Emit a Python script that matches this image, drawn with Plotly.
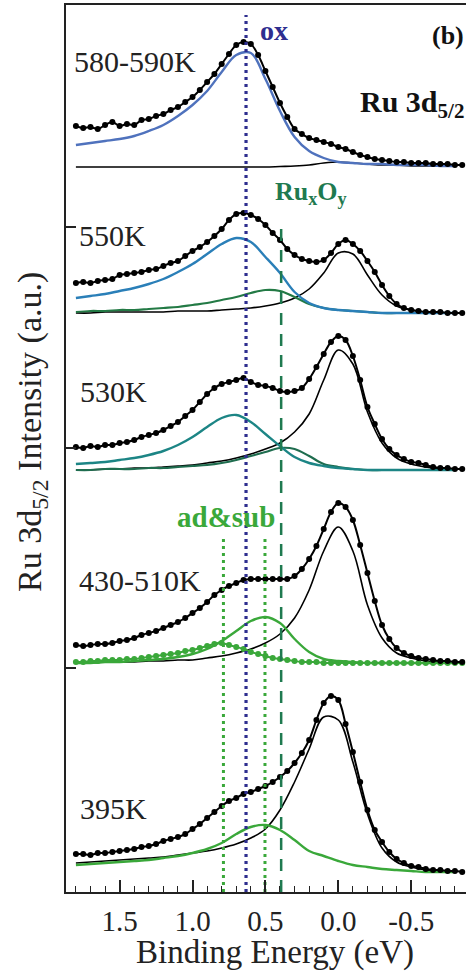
import plotly.graph_objects as go

# ---------------------------------------------
#  Data (intensity in a.u.,
#  relative to each spectrum's own baseline)
# ---------------------------------------------

energy_fine = [1.80, 1.75, 1.70, 1.65, 1.60, 1.55, 1.50, 1.45, 1.40, 1.35,
               1.30, 1.25, 1.20, 1.15, 1.10, 1.05, 1.00, 0.95, 0.90, 0.85,
               0.80, 0.75, 0.70, 0.65, 0.60, 0.55, 0.50, 0.45, 0.40, 0.35,
               0.30, 0.25, 0.20, 0.15, 0.10, 0.05, 0.00, -0.05, -0.10, -0.15,
               -0.20, -0.25, -0.30, -0.35, -0.40, -0.45, -0.50, -0.55, -0.60, -0.65,
               -0.70, -0.75, -0.80, -0.85]

energy_coarse = [1.8, 1.7, 1.6, 1.5, 1.4, 1.3, 1.2, 1.1, 1.0, 0.9,
                 0.8, 0.7, 0.6, 0.5, 0.4, 0.3, 0.2, 0.1, 0.0, -0.1,
                 -0.2, -0.3, -0.4, -0.5, -0.6, -0.7, -0.8]

panel_labels = ["580-590K", "550K", "530K", "430-510K", "395K"]
panel_offsets = [7.25, 5.79, 4.22, 2.29, 0.20]

# measured points
data_580 = [0.41, 0.39, 0.40, 0.38, 0.42, 0.45, 0.41, 0.43, 0.42, 0.47,
            0.48, 0.51, 0.53, 0.57, 0.60, 0.65, 0.70, 0.77, 0.85, 0.93,
            1.03, 1.13, 1.22, 1.25, 1.23, 1.12, 0.96, 0.80, 0.64, 0.50,
            0.38, 0.33, 0.29, 0.27, 0.25, 0.23, 0.20, 0.18, 0.15, 0.12,
            0.10, 0.08, 0.07, 0.06, 0.05, 0.05, 0.04, 0.04, 0.04, 0.03,
            0.03, 0.03, 0.02, 0.02]
data_550 = [0.30, 0.31, 0.30, 0.32, 0.33, 0.34, 0.38, 0.39, 0.40, 0.41,
            0.43, 0.44, 0.47, 0.50, 0.52, 0.57, 0.62, 0.66, 0.71, 0.77,
            0.84, 0.93, 0.99, 1.00, 0.98, 0.94, 0.88, 0.80, 0.73, 0.64,
            0.58, 0.54, 0.52, 0.51, 0.53, 0.60, 0.69, 0.73, 0.69, 0.62,
            0.52, 0.41, 0.28, 0.17, 0.09, 0.05, 0.03, 0.02, 0.01, 0.01,
            0.01, 0.00, 0.00, 0.00]
data_530 = [0.23, 0.22, 0.24, 0.23, 0.25, 0.25, 0.27, 0.28, 0.30, 0.33,
            0.35, 0.37, 0.40, 0.44, 0.48, 0.54, 0.60, 0.68, 0.76, 0.82,
            0.86, 0.88, 0.90, 0.92, 0.88, 0.85, 0.84, 0.82, 0.79, 0.78,
            0.79, 0.82, 0.91, 1.03, 1.16, 1.28, 1.34, 1.30, 1.14, 0.90,
            0.63, 0.46, 0.31, 0.21, 0.15, 0.11, 0.08, 0.07, 0.05, 0.03,
            0.02, 0.02, 0.01, 0.01]
data_430 = [0.18, 0.17, 0.18, 0.19, 0.19, 0.20, 0.22, 0.23, 0.25, 0.28,
            0.30, 0.32, 0.35, 0.38, 0.41, 0.45, 0.50, 0.55, 0.61, 0.68,
            0.73, 0.77, 0.80, 0.83, 0.84, 0.84, 0.84, 0.84, 0.84, 0.84,
            0.87, 0.94, 1.04, 1.17, 1.34, 1.51, 1.60, 1.56, 1.43, 1.18,
            0.90, 0.62, 0.38, 0.24, 0.15, 0.10, 0.07, 0.05, 0.04, 0.03,
            0.02, 0.02, 0.01, 0.01]
data_395 = [0.18, 0.18, 0.17, 0.19, 0.19, 0.20, 0.21, 0.22, 0.23, 0.25,
            0.26, 0.28, 0.31, 0.33, 0.35, 0.38, 0.43, 0.48, 0.54, 0.60,
            0.66, 0.71, 0.74, 0.78, 0.80, 0.83, 0.86, 0.90, 0.95, 1.01,
            1.09, 1.19, 1.32, 1.52, 1.69, 1.76, 1.72, 1.48, 1.20, 0.90,
            0.62, 0.42, 0.30, 0.20, 0.13, 0.09, 0.06, 0.05, 0.03, 0.02,
            0.02, 0.01, 0.01, 0.00]

# fitted components
ox_580 = [0.22, 0.24, 0.26, 0.28, 0.31, 0.36, 0.42, 0.51, 0.62, 0.76,
          0.95, 1.12, 1.14, 0.88, 0.56, 0.30, 0.16, 0.09, 0.05, 0.04,
          0.03, 0.03, 0.02, 0.02, 0.02, 0.01, 0.01]
met_580 = [0.00, 0.00, 0.00, 0.00, 0.00, 0.00, 0.00, 0.00, 0.00, 0.00,
           0.00, 0.00, 0.00, 0.00, 0.005, 0.01, 0.02, 0.04, 0.05, 0.04,
           0.03, 0.02, 0.02, 0.01, 0.01, 0.01, 0.01]

ox_550 = [0.15, 0.17, 0.19, 0.22, 0.25, 0.29, 0.34, 0.41, 0.49, 0.59,
          0.69, 0.75, 0.71, 0.56, 0.40, 0.21, 0.10, 0.05, 0.03, 0.02,
          0.01, 0.00, 0.00, 0.00, 0.00, 0.00, 0.00]
rux_550 = [0.01, 0.02, 0.02, 0.03, 0.03, 0.04, 0.05, 0.06, 0.08, 0.10,
           0.13, 0.16, 0.20, 0.23, 0.22, 0.16, 0.09, 0.05, 0.03, 0.02,
           0.01, 0.00, 0.00, 0.00, 0.00, 0.00, 0.00]
met_550 = [0.00, 0.00, 0.01, 0.01, 0.01, 0.01, 0.01, 0.02, 0.02, 0.02,
           0.03, 0.04, 0.05, 0.07, 0.10, 0.15, 0.24, 0.40, 0.60, 0.59,
           0.38, 0.18, 0.07, 0.03, 0.01, 0.00, 0.00]

ox_530 = [0.06, 0.07, 0.08, 0.10, 0.12, 0.15, 0.19, 0.25, 0.33, 0.43,
          0.52, 0.55, 0.48, 0.36, 0.24, 0.13, 0.07, 0.04, 0.02, 0.01,
          0.00, 0.00, 0.00, 0.00, 0.00, 0.00, 0.00]
rux_530 = [0.00, 0.00, 0.01, 0.01, 0.01, 0.02, 0.02, 0.03, 0.04, 0.05,
           0.07, 0.10, 0.14, 0.18, 0.22, 0.21, 0.14, 0.06, 0.03, 0.01,
           0.00, 0.00, 0.00, 0.00, 0.00, 0.00, 0.00]
met_530 = [0.00, 0.00, 0.01, 0.01, 0.02, 0.02, 0.03, 0.04, 0.05, 0.07,
           0.09, 0.12, 0.16, 0.21, 0.27, 0.38, 0.56, 0.90, 1.20, 1.06,
           0.58, 0.27, 0.12, 0.06, 0.03, 0.01, 0.00]

sub_430 = [0.00, 0.00, 0.01, 0.01, 0.02, 0.03, 0.04, 0.06, 0.09, 0.14,
           0.22, 0.32, 0.42, 0.46, 0.40, 0.24, 0.11, 0.04, 0.02, 0.01,
           0.00, 0.00, 0.00, 0.00, 0.00, 0.00, 0.00]
met_430 = [0.00, 0.00, 0.01, 0.01, 0.01, 0.02, 0.02, 0.03, 0.03, 0.05,
           0.07, 0.10, 0.14, 0.20, 0.29, 0.45, 0.73, 1.12, 1.36, 1.12,
           0.58, 0.25, 0.10, 0.05, 0.02, 0.01, 0.00]
ad_430 = [0.01, 0.01, 0.02, 0.02, 0.03, 0.03, 0.03, 0.04, 0.04, 0.05,
          0.06, 0.07, 0.08, 0.09, 0.10, 0.12, 0.13, 0.15, 0.17, 0.19,
          0.20, 0.18, 0.16, 0.14, 0.11, 0.09, 0.07, 0.05, 0.04, 0.03,
          0.02, 0.01, 0.01, 0.01, 0.00, 0.00, 0.00, 0.00, 0.00, 0.00,
          0.00, 0.00, 0.00, 0.00, 0.00, 0.00, 0.00, 0.00, 0.00, 0.00,
          0.00, 0.00, 0.00, 0.00]

sub_395 = [0.07, 0.08, 0.09, 0.10, 0.11, 0.12, 0.14, 0.16, 0.19, 0.23,
           0.29, 0.38, 0.45, 0.47, 0.42, 0.32, 0.21, 0.16, 0.11, 0.07,
           0.05, 0.03, 0.02, 0.01, 0.00, 0.00, 0.00]
met_395 = [0.09, 0.10, 0.11, 0.12, 0.13, 0.14, 0.15, 0.17, 0.19, 0.21,
           0.24, 0.28, 0.34, 0.43, 0.62, 0.90, 1.23, 1.55, 1.52, 1.10,
           0.58, 0.24, 0.10, 0.05, 0.02, 0.01, 0.00]

# reference energies of the vertical guide lines
ox_energy = 0.633
ruxoy_energy = 0.392
adsub_energies = [0.788, 0.503]

tick_vals = [1.5, 1.0, 0.5, 0.0, -0.5]
tick_text = ["1.5", "1.0", "0.5", "0.0", "-0.5"]
minor_vals = [1.8, 1.7, 1.6, 1.4, 1.3, 1.2, 1.1, 0.9, 0.8, 0.7, 0.6,
              0.4, 0.3, 0.2, 0.1, -0.1, -0.2, -0.3, -0.4, -0.6, -0.7, -0.8]
y_ticks = [2.24, 4.44, 6.65]

# ----------------------
#  Colours
# ----------------------
NAVY = "#2e2e8f"
RUX_GREEN = "#1f7a50"
AD_GREEN = "#3aa83a"
SERIF = "Liberation Serif"

fig = go.Figure()


def shift(values, off):
    return [v + off for v in values]


def add_line(x, y, off, color, width=2.2):
    fig.add_trace(go.Scatter(
        x = x, y = shift(y, off), mode = "lines",
        line = dict(color = color, width = width, shape = "spline"),
        hoverinfo = "skip"
    ))


def add_data(y, off):
    fig.add_trace(go.Scatter(
        x = energy_fine, y = shift(y, off), mode = "lines+markers",
        line = dict(color = "black", width = 2, shape = "spline"),
        marker = dict(color = "black", size = 6),
        hoverinfo = "skip"
    ))


# 580-590K
o = panel_offsets[0]
add_line(energy_coarse, met_580, o, "black", 1.6)
add_line(energy_coarse, ox_580, o, "#4f72bd", 2.4)
add_data(data_580, o)

# 550K
o = panel_offsets[1]
add_line(energy_coarse, met_550, o, "black", 1.6)
add_line(energy_coarse, rux_550, o, "#237a45", 2.2)
add_line(energy_coarse, ox_550, o, "#2a7fb8", 2.4)
add_data(data_550, o)

# 530K
o = panel_offsets[2]
add_line(energy_coarse, met_530, o, "black", 1.6)
add_line(energy_coarse, rux_530, o, "#1f6d4f", 2.2)
add_line(energy_coarse, ox_530, o, "#1c8585", 2.4)
add_data(data_530, o)

# 430-510K
o = panel_offsets[3]
add_line(energy_coarse, met_430, o, "black", 1.6)
add_line(energy_coarse, sub_430, o, AD_GREEN, 2.4)
fig.add_trace(go.Scatter(
    x = energy_fine, y = shift(ad_430, o), mode = "lines+markers",
    line = dict(color = AD_GREEN, width = 2, shape = "spline"),
    marker = dict(color = AD_GREEN, size = 6),
    hoverinfo = "skip"
))
add_data(data_430, o)

# 395K
o = panel_offsets[4]
add_line(energy_coarse, met_395, o, "black", 1.6)
add_line(energy_coarse, sub_395, o, AD_GREEN, 2.4)
add_data(data_395, o)

# ----------------------
#  Vertical guide lines
# ----------------------
for e in adsub_energies:
    fig.add_trace(go.Scatter(
        x = [e, e], y = [0, 3.55], mode = "lines",
        line = dict(color = AD_GREEN, width = 3, dash = "3px,4px"),
        hoverinfo = "skip"
    ))
fig.add_trace(go.Scatter(
    x = [ruxoy_energy, ruxoy_energy], y = [0, 6.72], mode = "lines",
    line = dict(color = RUX_GREEN, width = 2.5, dash = "12px,9px"),
    hoverinfo = "skip"
))
fig.add_trace(go.Scatter(
    x = [ox_energy, ox_energy], y = [0, 8.77], mode = "lines",
    line = dict(color = NAVY, width = 3.2, dash = "3px,4px"),
    hoverinfo = "skip"
))

# ----------------------
#  Text labels
# ----------------------
label_pos = [(1.826, 8.31), (1.792, 6.57), (1.785, 5.01), (1.792, 3.12), (1.785, 0.84)]
for txt, (lx, ly) in zip(panel_labels, label_pos):
    fig.add_annotation(x = lx, y = ly, text = txt, showarrow = False,
                       xanchor = "left", yanchor = "middle",
                       font = dict(family = SERIF, size = 30, color = "#222"))

fig.add_annotation(x = 0.551, y = 8.62, text = "<b>ox</b>", showarrow = False,
                   xanchor = "left", yanchor = "middle",
                   font = dict(family = SERIF, size = 28, color = NAVY))
fig.add_annotation(x = 0.448, y = 6.99, text = "<b>Ru<sub>x</sub>O<sub>y</sub></b>",
                   showarrow = False, xanchor = "left", yanchor = "middle",
                   font = dict(family = SERIF, size = 26, color = RUX_GREEN))
fig.add_annotation(x = 1.12, y = 3.75, text = "<b>ad&sub</b>", showarrow = False,
                   xanchor = "left", yanchor = "middle",
                   font = dict(family = SERIF, size = 29, color = AD_GREEN))
fig.add_annotation(x = -0.63, y = 8.57, text = "<b>(b)</b>", showarrow = False,
                   xanchor = "left", yanchor = "middle",
                   font = dict(family = SERIF, size = 26, color = "#111"))
fig.add_annotation(x = -0.134, y = 7.88, text = "<b>Ru 3d<sub>5/2</sub></b>",
                   showarrow = False, xanchor = "left", yanchor = "middle",
                   font = dict(family = SERIF, size = 30, color = "#111"))

# axis titles as annotations to match placement
fig.add_annotation(xref = "paper", yref = "paper", x = -0.085, y = 0.5186,
                   text = "Ru 3d<sub>5/2</sub> Intensity (a.u.)", textangle = -90,
                   showarrow = False, xanchor = "center", yanchor = "middle",
                   font = dict(family = SERIF, size = 34, color = "#222"))
fig.add_annotation(xref = "paper", yref = "paper", x = 0.5225, y = -0.068,
                   text = "Binding Energy (eV)",
                   showarrow = False, xanchor = "center", yanchor = "middle",
                   font = dict(family = SERIF, size = 33, color = "#222"))

fig.update_xaxes(
    range = [1.868, -0.876], showgrid = False, zeroline = False,
    showline = True, linecolor = "#222", linewidth = 2, mirror = True,
    tickmode = "array", tickvals = tick_vals, ticktext = tick_text,
    ticks = "inside", ticklen = 12, tickwidth = 1.6, tickcolor = "#222",
    ticklabelstandoff = 2,
    tickfont = dict(family = SERIF, size = 29, color = "#222"),
    minor = dict(tickmode = "array", tickvals = minor_vals, ticks = "inside",
                 ticklen = 6, tickwidth = 1.4, tickcolor = "#222")
)
fig.update_yaxes(
    range = [0, 8.87], showgrid = False, zeroline = False,
    showline = True, linecolor = "#222", linewidth = 2, mirror = False,
    tickmode = "array", tickvals = y_ticks, ticks = "inside", ticklen = 10,
    tickwidth = 1.6, tickcolor = "#222", showticklabels = False
)

fig.update_layout(
    width = 466, height = 976,
    margin = dict(l = 66, r = 0, t = 5, b = 84),
    paper_bgcolor = "white", plot_bgcolor = "white",
    showlegend = False
)

# drop the browser's default page margin so the figure sits at the corner
fig.write_html("out.html", config = {"displayModeBar": False},
               post_script = "document.body.style.margin = '0';")
